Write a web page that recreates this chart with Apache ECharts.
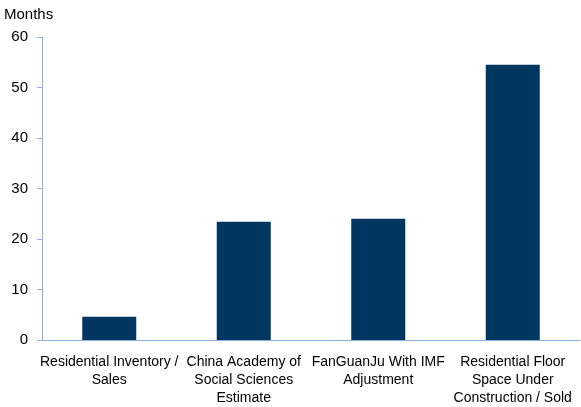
<!DOCTYPE html>
<html>
<head>
<meta charset="utf-8">
<style>
  html, body { margin: 0; padding: 0; background: #ffffff; }
  #chart { width: 581px; height: 407px; }
</style>
<script src="https://cdn.jsdelivr.net/npm/echarts@6/dist/echarts.min.js"></script>
</head>
<body>
<div id="chart"></div>
<script>
// Months of housing inventory by measure
const categories = [
  'Residential Inventory /\nSales',
  'China Academy of\nSocial Sciences\nEstimate',
  'FanGuanJu With IMF\nAdjustment',
  'Residential Floor\nSpace Under\nConstruction / Sold'
];
const months = [4.6, 23.4, 24.0, 54.5];
const yTicks = { min: 0, max: 60, interval: 10 };

const font = '"Liberation Sans Narrow", "Liberation Sans", Arial, sans-serif';
const axisBlue = '#8eaedb';

const chart = echarts.init(document.getElementById('chart'), null, { renderer: 'canvas' });
chart.setOption({
  animation: false,
  grid: { left: 42, right: 1, top: 37, bottom: 67, containLabel: false },
  xAxis: {
    type: 'category',
    data: categories,
    axisLine: { lineStyle: { color: axisBlue, width: 1 } },
    axisTick: { show: false },
    axisLabel: {
      interval: 0,
      color: '#000000',
      fontFamily: font,
      fontSize: 14,
      lineHeight: 18,
      margin: 13
    }
  },
  yAxis: {
    type: 'value',
    name: 'Months',
    nameLocation: 'end',
    nameGap: 15,
    nameTextStyle: { color: '#000000', fontFamily: font, fontSize: 15, align: 'left', padding: [0, 0, 0, -38] },
    min: yTicks.min,
    max: yTicks.max,
    interval: yTicks.interval,
    axisLine: { show: true, lineStyle: { color: axisBlue, width: 1 } },
    axisTick: { show: true, length: 5, lineStyle: { color: axisBlue } },
    splitLine: { show: false },
    axisLabel: { color: '#000000', fontFamily: font, fontSize: 15, margin: 14 }
  },
  series: [{
    type: 'bar',
    data: months,
    barWidth: 54,
    itemStyle: { color: '#003660' }
  }]
});
</script>
</body>
</html>
